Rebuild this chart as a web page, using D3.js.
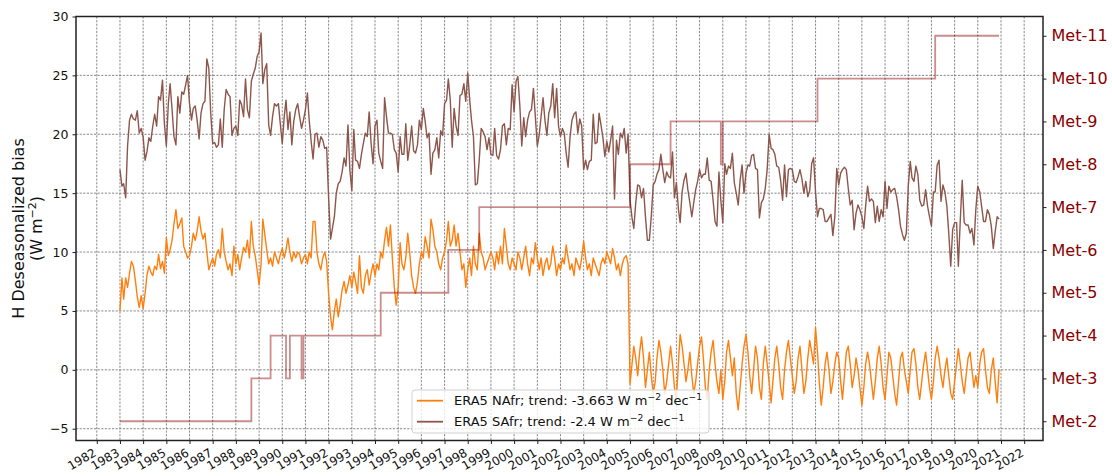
<!DOCTYPE html>
<html>
<head>
<meta charset="utf-8">
<script src="https://cdn.jsdelivr.net/npm/d3@7"></script>
<style>
  body { margin: 0; background: #fff; }
  text { font-family: "DejaVu Sans", sans-serif; }
</style>
</head>
<body>
<svg id="chart" width="1112" height="476"></svg>
<script>
// Monthly deseasonalized sensible-heat bias, Jan 1983 – Dec 2020 (W m-2)
const firstMonth = "1983-01";
const lastMonth = "2020-12";

// ERA5 NAfr, one row per year
const nafr = [
  5.0, 7.8, 6.0, 7.8, 7.0, 8.2, 9.2, 8.8, 7.6, 6.2, 5.3, 6.3,
  5.2, 6.5, 8.0, 8.8, 8.3, 8.0, 8.8, 8.5, 9.8, 8.6, 9.2, 8.2,
  11.2, 9.7, 10.2, 11.0, 12.4, 13.6, 12.0, 12.4, 12.9, 10.5, 10.0, 9.5,
  9.7, 10.5, 11.6, 11.0, 11.8, 13.0, 11.8, 11.1, 11.6, 10.0, 8.5, 9.0,
  9.5, 8.8, 9.8, 10.2, 9.5, 12.0, 10.0, 9.2, 8.5, 9.0, 8.0, 10.5,
  9.0, 9.8, 8.5, 9.5, 10.4, 10.0, 11.0, 9.5, 12.6, 10.5, 9.7, 8.5,
  7.2, 9.0, 12.8, 11.5, 10.2, 9.0, 9.5, 8.8, 10.0, 9.5, 9.0, 9.8,
  10.3, 9.5, 10.2, 11.2, 10.0, 9.2, 10.0, 9.5, 10.0, 9.8, 9.0, 9.5,
  9.8, 9.0, 10.0, 9.5, 12.6, 12.6, 10.0, 9.0, 8.5, 9.5, 10.0, 9.2,
  6.5, 4.5, 3.4, 5.0, 6.0, 4.5, 5.5, 6.8, 7.5, 6.5, 7.2, 8.0,
  7.0, 8.3, 7.5, 6.5, 9.7, 7.0, 6.5, 8.0, 8.5, 7.2, 8.2, 9.0,
  8.0, 9.0, 8.5, 10.0, 9.5, 11.0, 12.1, 10.5, 12.3, 9.5, 7.0, 5.5,
  7.0, 10.8, 9.0, 8.5, 9.5, 11.6, 10.0, 8.0, 7.0, 6.5, 7.5, 9.0,
  10.0, 9.5, 11.3, 10.5, 9.5, 12.8, 11.9, 10.5, 10.0, 9.0, 8.5, 9.5,
  10.0, 11.0, 12.6, 10.5, 11.0, 12.3, 10.5, 11.6, 10.0, 8.5, 9.0, 7.0,
  8.5, 9.5, 8.0, 10.5, 9.0, 8.5, 11.6, 10.0, 9.5, 8.5, 9.0, 9.5,
  10.0, 9.5, 8.5, 10.0, 9.0, 10.5, 9.0, 12.0, 10.5, 9.0, 8.5, 9.5,
  9.0, 8.5, 10.0, 9.5, 8.5, 9.5, 10.5, 9.0, 8.0, 9.5, 9.0, 10.8,
  9.5, 8.5, 9.5, 8.0, 9.0, 9.5, 8.5, 9.0, 10.5, 9.5, 8.0, 9.0,
  8.5, 9.5, 9.0, 10.6, 9.5, 8.5, 9.0, 8.0, 9.5, 9.0, 8.5, 9.5,
  10.9, 9.5, 8.5, 9.0, 8.0, 9.5, 9.0, 8.5, 8.0, 9.0, 9.5, 9.0,
  10.0, 9.5, 9.0, 10.3, 9.5, 8.5, 9.0, 8.0, 9.0, 9.5, 9.7, 9.0,
  -1.2, 0.5, 2.0, 1.0, -0.5, 1.5, 2.8, 1.0, -1.5, 0.0, 1.5, -0.5,
  -2.0, -1.0, 1.0, 2.5, 1.5, 0.0, -2.0, -1.0, 0.5, 2.0, 0.5, -1.5,
  -2.5, 0.5, 3.0, 2.0, 0.5, -1.0, 0.0, 1.5, -0.5, -2.0, -1.0, 0.5,
  2.0, 2.8, 1.0, -1.5, -2.5, 0.0, 1.5, 2.5, 0.5, -1.0, -2.0, 0.0,
  -2.5, -1.0, 1.5, 2.5, 1.0, -0.5, 1.0, -2.0, -3.4, -1.5, 0.5, 2.0,
  3.0, 1.5, -0.5, -2.0, 0.0, 2.0, 1.0, -1.5, -2.5, 0.5, 2.0, 0.5,
  -1.0, -2.8, -1.0, 1.0, 2.0, 0.5, -1.5, -2.5, 0.0, 1.5, 2.5, 1.0,
  -0.5, -2.0, -1.0, 1.0, 2.0, 0.0, -2.0, -1.0, 1.0, 2.5, 1.5, 0.5,
  3.6, 1.5, -1.0, -3.0, -1.5, 0.5, 1.5, 0.0, -2.0, -1.0, 0.5, 1.5,
  1.0, -1.0, -2.5, -0.5, 1.5, 2.0, 0.5, -1.5, -0.5, 1.0, 0.0, -1.5,
  -3.0, -1.5, 0.5, 1.5, 0.5, -1.0, -2.5, -1.0, 1.0, 2.0, 0.5, -1.5,
  -2.5, -0.5, 1.5, 1.0, -0.5, -2.0, -3.0, -1.0, 1.0, 1.5, 0.0, -1.0,
  -2.0, 0.0, 1.5, 1.8, 0.5, -1.5, -2.5, -1.0, 0.5, 1.5, 0.0, -1.5,
  -2.5, -1.0, 1.0, 2.0, 1.0, -0.5, -1.5, 0.0, 1.0, -0.5, -2.0, -2.5,
  -1.0, 0.5, 1.8, 0.5, -1.0, -2.0, -0.5, 1.0, 1.5, 0.0, -1.5, -0.5,
  -1.5, 0.5, 1.5, 1.8, 0.0, -1.5, -2.0, 0.0, 1.0, -1.0, -2.8, 0.0
];

// ERA5 SAfr, one row per year
const safr = [
  17.0, 15.6, 15.8, 14.6, 19.0, 21.2, 21.7, 21.3, 21.2, 22.0, 20.1, 20.5,
  19.8, 17.8, 18.5, 19.7, 19.4, 20.7, 21.7, 20.7, 23.2, 22.9, 24.6, 20.9,
  19.0, 22.6, 24.3, 22.1, 19.8, 19.1, 23.2, 21.8, 23.6, 23.4, 24.2, 25.0,
  22.6, 21.2, 22.2, 22.4, 21.2, 19.6, 21.8, 22.6, 22.8, 26.4, 25.6, 21.8,
  19.2, 19.3, 18.9, 19.1, 21.3, 18.9, 22.1, 23.8, 23.4, 23.2, 19.9, 20.5,
  20.7, 19.9, 22.9, 22.5, 21.5, 24.7, 22.1, 21.4, 24.5, 25.1, 25.6, 26.6,
  27.0, 28.6, 24.3, 25.5, 26.0, 20.8, 19.9, 21.5, 22.6, 22.4, 22.6, 20.9,
  19.2, 21.5, 22.9, 20.4, 21.9, 19.1, 21.1, 22.1, 22.6, 21.5, 20.5, 21.2,
  22.1, 23.5, 21.2, 19.4, 17.9, 20.0, 20.1, 18.9, 19.8, 19.5, 18.8, 18.9,
  14.6, 11.1, 12.0, 13.0, 15.0, 15.8, 16.0, 16.8, 18.0, 17.3, 20.8, 17.0,
  15.2, 20.4, 17.8, 17.7, 17.1, 18.3, 19.2, 20.1, 19.8, 21.9, 19.2, 17.5,
  20.7, 21.2, 18.4, 17.7, 17.1, 23.1, 21.5, 20.1, 20.1, 20.0, 18.7, 18.4,
  16.8, 19.8, 18.3, 18.3, 20.9, 17.8, 19.0, 20.7, 18.6, 18.4, 19.1, 21.2,
  20.4, 22.2, 21.1, 19.7, 20.1, 16.6, 18.4, 18.7, 19.7, 18.0, 20.3, 19.9,
  22.6, 22.9, 24.7, 22.9, 18.9, 22.2, 20.7, 19.9, 23.3, 23.4, 24.3, 22.8,
  25.2, 22.9, 21.2, 19.8, 15.7, 15.8, 17.8, 20.5, 20.2, 19.8, 18.7, 19.7,
  18.3, 18.2, 20.5, 18.2, 17.9, 18.7, 20.7, 20.9, 19.1, 20.5, 20.4, 24.2,
  21.9, 24.5, 24.9, 22.4, 19.0, 21.4, 19.8, 21.2, 21.9, 22.1, 23.9, 21.5,
  19.0, 20.0, 21.5, 23.1, 21.2, 19.9, 21.8, 22.4, 24.3, 21.4, 23.9, 20.7,
  19.8, 20.5, 20.1, 18.4, 17.2, 19.8, 21.2, 21.7, 21.9, 20.1, 21.3, 20.7,
  17.0, 17.8, 17.0, 17.7, 17.8, 21.7, 19.2, 19.3, 21.8, 20.8, 19.7, 18.1,
  19.4, 18.5, 19.5, 20.7, 14.5, 19.5, 18.3, 20.1, 19.7, 20.5, 18.4, 20.0,
  14.4, 12.9, 12.0, 14.2, 15.7, 15.6, 14.6, 15.4, 13.0, 11.0, 11.0, 13.0,
  15.7, 16.0, 16.6, 17.0, 18.3, 17.0, 15.9, 16.8, 16.4, 16.3, 18.5, 14.6,
  15.9, 13.7, 12.5, 15.1, 16.1, 16.7, 15.3, 14.2, 13.0, 14.2, 15.3, 16.0,
  17.0, 16.3, 16.6, 16.6, 18.0, 16.1, 16.0, 14.4, 12.6, 12.2, 16.8, 14.4,
  12.5, 17.5, 16.6, 17.3, 17.1, 18.4, 15.9, 15.0, 14.0, 16.1, 17.4, 15.0,
  16.7, 17.4, 17.3, 18.2, 18.3, 17.1, 17.0, 12.9, 14.2, 14.5, 15.4, 17.0,
  20.0, 18.8, 18.7, 18.3, 17.3, 17.2, 16.1, 14.4, 17.4, 14.7, 17.0, 17.1,
  17.0, 16.0, 15.9, 16.4, 17.0, 16.2, 15.0, 16.0, 14.7, 15.2, 17.5, 18.0,
  15.1, 13.0, 13.7, 13.7, 13.6, 12.6, 12.6, 12.9, 13.2, 11.4, 13.0, 17.1,
  15.7, 16.7, 17.0, 17.2, 17.0, 15.4, 14.0, 14.4, 11.9, 13.3, 14.0, 13.6,
  13.0, 12.0, 13.9, 15.6, 14.3, 14.5, 14.3, 12.5, 13.9, 12.6, 13.6, 13.0,
  16.0, 13.7, 15.6, 15.1, 15.3, 15.4, 14.7, 13.6, 12.2, 11.5, 11.0, 11.6,
  15.6, 17.7, 16.3, 16.0, 17.3, 16.6, 14.4, 13.9, 14.0, 15.3, 13.9, 13.0,
  12.2, 15.1, 15.1, 17.4, 17.8, 14.3, 15.7, 15.1, 13.9, 11.6, 8.8, 11.9,
  12.5, 12.5, 8.8, 12.8, 16.1, 12.5, 12.3, 12.3, 11.6, 12.0, 10.6, 13.6,
  15.6, 15.1, 13.9, 12.6, 12.6, 13.6, 13.2, 12.2, 10.3, 11.7, 13.0, 12.8
];

// Meteosat satellite in use: first month of each period and its number
const satStart = ["1983-01", "1988-09", "1989-07", "1990-03", "1990-05", "1990-11",
                  "1990-12", "1994-04", "1997-03", "1998-07", "2005-01", "2006-10",
                  "2008-12", "2009-01", "2013-02", "2018-03"];
const satId = [2, 3, 4, 3, 4, 3, 4, 5, 6, 7, 8, 9, 8, 9, 10, 11];

const yTicks = [-5, 0, 5, 10, 15, 20, 25, 30];
const metTicks = [2, 3, 4, 5, 6, 7, 8, 9, 10, 11];
const metLabels = ["Met-2", "Met-3", "Met-4", "Met-5", "Met-6", "Met-7", "Met-8", "Met-9", "Met-10", "Met-11"];
const seriesNames = ["ERA5 NAfr", "ERA5 SAfr"];
const trendValues = ["-3.663", "-2.4"];

const colors = { nafr: "#ff7f0e", safr: "#8c564b", sat: "#8b0000", axis: "#222" };

const svg = d3.select("#chart");
const plot = { left: 76, right: 1043, top: 16.5, bottom: 440.5 };

const parseMonth = d3.utcParse("%Y-%m");
const months = d3.utcMonth.range(parseMonth(firstMonth), d3.utcMonth.offset(parseMonth(lastMonth), 1));

// x domain padded by 5% of the data span on either side
const t0 = months[0], t1 = months[months.length - 1];
const pad = (t1 - t0) * 0.05;
const x = d3.scaleUtc().domain([new Date(+t0 - pad), new Date(+t1 + pad)]).range([plot.left, plot.right]);
const y = d3.scaleLinear().domain([-6, 30]).range([plot.bottom, plot.top]);
const yMet = d3.scaleLinear().domain([1.55, 11.45]).range([plot.bottom, plot.top]);

const yearTicks = d3.utcYear.range(d3.utcParse("%Y")("1982"), d3.utcParse("%Y")("2023"));

// grid
const grid = svg.append("g").attr("stroke", "#6a6a6a").attr("stroke-width", 0.8).attr("stroke-dasharray", "2.2,1.4");
grid.selectAll("line.v").data(yearTicks).join("line")
  .attr("x1", d => x(d)).attr("x2", d => x(d)).attr("y1", plot.top).attr("y2", plot.bottom);
grid.selectAll("line.h").data(yTicks).join("line")
  .attr("x1", plot.left).attr("x2", plot.right).attr("y1", d => y(d)).attr("y2", d => y(d));

// series
const line = vals => d3.line().x((d, i) => x(months[i])).y(d => y(d))(vals);
svg.append("path").attr("d", line(nafr)).attr("fill", "none").attr("stroke", colors.nafr).attr("stroke-width", 1.4).attr("stroke-linejoin", "round");
svg.append("path").attr("d", line(safr)).attr("fill", "none").attr("stroke", colors.safr).attr("stroke-width", 1.4).attr("stroke-linejoin", "round");

// satellite step line on the right axis
const satPts = satStart.map((s, i) => [parseMonth(s), satId[i]]);
satPts.push([parseMonth(lastMonth), satId[satId.length - 1]]);
svg.append("path")
  .attr("d", d3.line().curve(d3.curveStepAfter).x(d => x(d[0])).y(d => yMet(d[1]))(satPts))
  .attr("fill", "none").attr("stroke", colors.sat).attr("stroke-opacity", 0.45).attr("stroke-width", 1.8);

// axes
const yAxis = svg.append("g").attr("transform", `translate(${plot.left},0)`)
  .call(d3.axisLeft(y).tickValues(yTicks).tickSize(3.5).tickPadding(4).tickFormat(d => d < 0 ? "\u2212" + Math.abs(d) : d));
yAxis.selectAll("text").attr("font-size", 12.5).attr("fill", "#111");

const xAxis = svg.append("g").attr("transform", `translate(0,${plot.bottom})`)
  .call(d3.axisBottom(x).tickValues(yearTicks).tickSize(3.5).tickFormat(d3.utcFormat("%Y")));
xAxis.selectAll("text")
  .attr("font-size", 12).attr("fill", "#111")
  .attr("text-anchor", "end").attr("dy", null).attr("y", null)
  .attr("dominant-baseline", "hanging")
  .attr("transform", "translate(-4.5,7) rotate(-30)");

const rAxis = svg.append("g").attr("transform", `translate(${plot.right},0)`)
  .call(d3.axisRight(yMet).tickValues(metTicks).tickSize(3.5).tickPadding(5).tickFormat((d, i) => metLabels[i]));
rAxis.selectAll("text").attr("font-size", 16).attr("fill", colors.sat);

[yAxis, xAxis, rAxis].forEach(g => {
  g.select(".domain").remove();
  g.selectAll(".tick line").attr("stroke", colors.axis).attr("stroke-width", 1);
});

// frame
svg.append("rect").attr("x", plot.left).attr("y", plot.top)
  .attr("width", plot.right - plot.left).attr("height", plot.bottom - plot.top)
  .attr("fill", "none").attr("stroke", colors.axis).attr("stroke-width", 1.5);

// y label
const yl = svg.append("text").attr("transform", `translate(0,${(plot.top + plot.bottom) / 2}) rotate(-90)`)
  .attr("text-anchor", "middle").attr("font-size", 16).attr("fill", "#111");
yl.append("tspan").attr("x", 0).attr("y", 24).text("H Deseasonalized bias");
const yl2 = yl.append("tspan").attr("x", 0).attr("y", 42);
yl2.append("tspan").text("(W m");
yl2.append("tspan").attr("font-size", 11).attr("dy", -6).text("\u22122");
yl2.append("tspan").attr("dy", 6).text(")");

// legend
const lg = svg.append("g");
lg.append("rect").attr("x", 412).attr("y", 390).attr("width", 297).attr("height", 43).attr("rx", 3)
  .attr("fill", "#fff").attr("fill-opacity", 0.8).attr("stroke", "#d0d0d0").attr("stroke-width", 1);
[colors.nafr, colors.safr].forEach((c, i) => {
  const yy = 400.7 + i * 21;
  lg.append("line").attr("x1", 417).attr("x2", 443).attr("y1", yy).attr("y2", yy).attr("stroke", c).attr("stroke-width", 1.8);
  const t = lg.append("text").attr("x", 454).attr("y", yy + 4.6).attr("font-size", 13).attr("fill", "#111");
  t.append("tspan").text(`${seriesNames[i]}; trend: ${trendValues[i]} W m`);
  t.append("tspan").attr("font-size", 9.2).attr("dy", -5.5).text("\u22122");
  t.append("tspan").attr("dy", 5.5).text(" dec");
  t.append("tspan").attr("font-size", 9.2).attr("dy", -5.5).text("\u22121");
});
</script>
</body>
</html>
